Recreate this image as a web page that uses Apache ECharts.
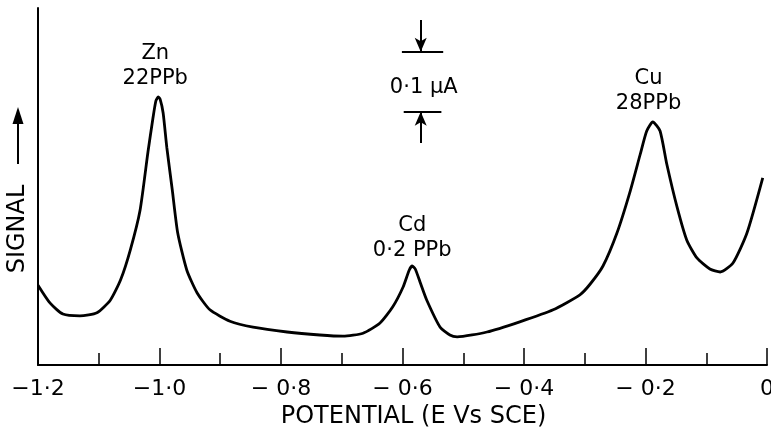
<!DOCTYPE html>
<html>
<head>
<meta charset="utf-8">
<script src="https://cdn.jsdelivr.net/npm/echarts@6/dist/echarts.min.js"></script>
<style>
  html, body { margin: 0; padding: 0; background: #fff; }
  #chart { width: 771px; height: 429px; }
</style>
</head>
<body>
<div id="chart"></div>
<script>
// potential (V vs SCE) and signal (uA)
const potential = [-1.200, -1.180, -1.159, -1.131, -1.103, -1.081, -1.064, -1.048, -1.032, -1.019, -1.011, -1.006, -1.002, -0.999, -0.994, -0.988, -0.979, -0.970, -0.955, -0.938, -0.917, -0.884, -0.846, -0.790, -0.736, -0.698, -0.665, -0.637, -0.616, -0.599, -0.589, -0.584, -0.579, -0.571, -0.560, -0.538, -0.522, -0.510, -0.461, -0.407, -0.352, -0.308, -0.291, -0.270, -0.247, -0.226, -0.209, -0.198, -0.188, -0.176, -0.165, -0.148, -0.132, -0.115, -0.094, -0.077, -0.056, -0.033, -0.007];
const signal = [0.133, 0.103, 0.085, 0.082, 0.087, 0.108, 0.142, 0.192, 0.258, 0.355, 0.410, 0.440, 0.447, 0.443, 0.420, 0.363, 0.292, 0.220, 0.158, 0.120, 0.092, 0.073, 0.063, 0.055, 0.050, 0.048, 0.053, 0.070, 0.097, 0.130, 0.158, 0.165, 0.160, 0.138, 0.108, 0.063, 0.050, 0.047, 0.055, 0.072, 0.092, 0.117, 0.135, 0.165, 0.220, 0.287, 0.350, 0.390, 0.405, 0.390, 0.335, 0.263, 0.208, 0.178, 0.160, 0.155, 0.170, 0.220, 0.312];

const xTicks = [-1.2, -1.0, -0.8, -0.6, -0.4, -0.2, 0];
const xTickLabels = ['−1·2', '−1·0', '− 0·8', '− 0·6', '− 0·4', '− 0·2', '0'];

// peak annotations: [potential, signal, text]
const peakLabels = [
  [-1.007, 0.499, 'Zn\n22PPb'],
  [-0.584, 0.211, 'Cd\n0·2 PPb'],
  [-0.195, 0.457, 'Cu\n28PPb']
];

// 0.1 uA scale bar
const barX = [-0.601, -0.533];
const barY = [0.522, 0.422];
const barMid = -0.570;

const FONT = 'DejaVu Sans';
const chart = echarts.init(document.getElementById('chart'));

const option = {
  animation: false,
  backgroundColor: '#fff',
  grid: { left: 38, right: 4, top: 8, bottom: 64, outerBoundsMode: 'none', containLabel: false },
  xAxis: {
    type: 'value',
    min: -1.2,
    max: 0,
    interval: 0.2,
    name: 'POTENTIAL (E Vs SCE)',
    nameLocation: 'middle',
    nameGap: 35,
    nameTextStyle: { color: '#000', fontSize: 24, fontFamily: FONT, padding: [0, 0, 0, 22] },
    axisLine: { onZero: false, lineStyle: { color: '#000', width: 2 } },
    axisTick: { inside: true, length: 17, lineStyle: { color: '#000', width: 1.5 } },
    minorTick: { show: true, splitNumber: 2, length: 12, lineStyle: { color: '#000', width: 1.5 } },
    axisLabel: {
      color: '#000', fontSize: 22, fontFamily: FONT, margin: 13,
      formatter: v => {
        const i = xTicks.findIndex(t => Math.abs(t - v) < 1e-6);
        return i >= 0 ? xTickLabels[i] : '';
      }
    },
    splitLine: { show: false }
  },
  yAxis: {
    type: 'value',
    min: 0,
    max: 0.595,
    axisLine: { show: true, onZero: false, lineStyle: { color: '#000', width: 2 } },
    axisTick: { show: false },
    axisLabel: { show: false },
    splitLine: { show: false }
  },
  series: [{
    type: 'line',
    data: potential.map((p, i) => [p, signal[i]]),
    smooth: 0.2,
    showSymbol: false,
    lineStyle: { color: '#000', width: 2.8 },
    markPoint: {
      symbol: 'circle',
      symbolSize: 1,
      itemStyle: { color: 'rgba(0,0,0,0)' },
      label: {
        show: true, position: 'inside', color: '#000', fontSize: 21,
        fontFamily: FONT, lineHeight: 25, align: 'center',
        formatter: p => p.name
      },
      data: peakLabels.map(d => ({ name: d[2], coord: [d[0], d[1]] }))
        .concat([{ name: '0·1 μA', coord: [-0.565, 0.462] }])
    },
    markLine: {
      silent: true,
      symbol: 'none',
      label: { show: false },
      lineStyle: { color: '#000', width: 2, type: 'solid' },
      data: [
        [{ coord: [barX[0], barY[0]] }, { coord: [barX[1], barY[0]] }],
        [{ coord: [barX[0] + 0.003, barY[1]] }, { coord: [barX[1] - 0.003, barY[1]] }],
        [{ coord: [barMid, 0.575], symbol: 'none' }, { coord: [barMid, barY[0]], symbol: 'arrow', symbolSize: [9, 14] }],
        [{ coord: [barMid, 0.370], symbol: 'none' }, { coord: [barMid, barY[1]], symbol: 'arrow', symbolSize: [9, 14] }]
      ]
    }
  }],
  graphic: [
    {
      type: 'text', x: 18, y: 229, rotation: Math.PI / 2,
      style: { text: 'SIGNAL', fill: '#000', font: '24px "DejaVu Sans"', align: 'center', verticalAlign: 'middle' }
    },
    { type: 'line', shape: { x1: 18, y1: 164, x2: 18, y2: 118 }, style: { stroke: '#000', lineWidth: 2 } },
    { type: 'polygon', shape: { points: [[18, 107], [12.5, 124], [23.5, 124]] }, style: { fill: '#000' } }
  ]
};

chart.setOption(option);
</script>
</body>
</html>
